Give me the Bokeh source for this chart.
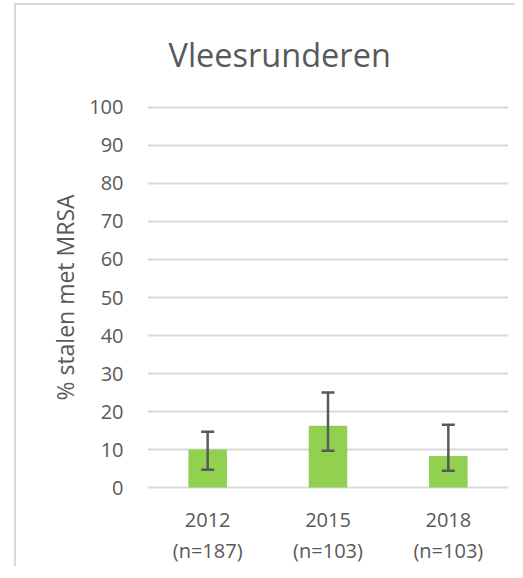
from bokeh.plotting import figure
from bokeh.models import (ColumnDataSource, Whisker, FactorRange, Range1d,
                          TeeHead, FixedTicker)
from bokeh.embed import file_html
from bokeh.resources import INLINE

# ---- data ----
years = ["2012", "2015", "2018"]
n_labels = ["(n=187)", "(n=103)", "(n=103)"]
pct = [10.0, 16.3, 8.3]
ci_low = [4.7, 9.7, 4.4]
ci_high = [14.7, 25.0, 16.5]
y_ticks = [0, 10, 20, 30, 40, 50, 60, 70, 80, 90, 100]
title_text = "Vleesrunderen"
y_label = "% stalen met MRSA"

cats = [f"{y}\n{n}" for y, n in zip(years, n_labels)]
src = ColumnDataSource(dict(cat=cats, pct=pct, lo=ci_low, hi=ci_high))

TXT = "#595959"
FONT = "Open Sans"

border_css = """
:host {
  background-color: white;
  background-image: linear-gradient(#d9d9d9, #d9d9d9), linear-gradient(#d9d9d9, #d9d9d9);
  background-position: 14px 3px, 14px 3px;
  background-size: 2px 100%, 100% 2px;
  background-repeat: no-repeat;
}
"""

p = figure(x_range=FactorRange(*cats, range_padding=0), y_range=Range1d(-0.5, 100.5),
           width=515, height=566, output_backend="svg", toolbar_location=None,
           min_border_left=147, min_border_right=7, min_border_top=100,
           min_border_bottom=75, title=title_text, stylesheets=[border_css])
p.outline_line_color = None
p.background_fill_color = "white"
p.border_fill_color = None

p.title.align = "left"
p.title.offset = 21
p.title.text_font = FONT
p.title.text_font_size = "32.5px"
p.title.text_font_style = "normal"
p.title.text_color = TXT
p.title.standoff = 58

p.vbar(x="cat", top="pct", width=0.32, source=src, fill_color="#92d050", line_color=None)

w = Whisker(source=src, base="cat", lower="lo", upper="hi", level="overlay",
            line_color="#595959", line_width=2.5,
            upper_head=TeeHead(size=13, line_color="#595959", line_width=2.5),
            lower_head=TeeHead(size=13, line_color="#595959", line_width=2.5))
p.add_layout(w)

# axes
p.yaxis.ticker = FixedTicker(ticks=y_ticks)
for ax in (p.xaxis[0], p.yaxis[0]):
    ax.axis_line_color = None
    ax.major_tick_line_color = None
    ax.minor_tick_line_color = None
    ax.major_tick_out = 0
    ax.major_tick_in = 0
    ax.minor_tick_out = 0
    ax.minor_tick_in = 0
    ax.major_label_text_color = TXT
    ax.major_label_text_font = FONT
    ax.major_label_text_font_size = "20px"
    ax.axis_label_text_color = TXT
    ax.axis_label_text_font = FONT

p.yaxis.major_label_standoff = 24
p.yaxis.axis_label = y_label
p.yaxis.axis_label_text_font_size = "23px"
p.yaxis.axis_label_text_font_style = "normal"
p.yaxis.axis_label_standoff = 5

p.xaxis.major_label_standoff = 16
p.xaxis.major_label_text_line_height = 1.16

p.xgrid.grid_line_color = None
p.ygrid.grid_line_color = "#d9d9d9"
p.ygrid.grid_line_width = 2

open("out.html", "w").write(file_html(p, INLINE))
